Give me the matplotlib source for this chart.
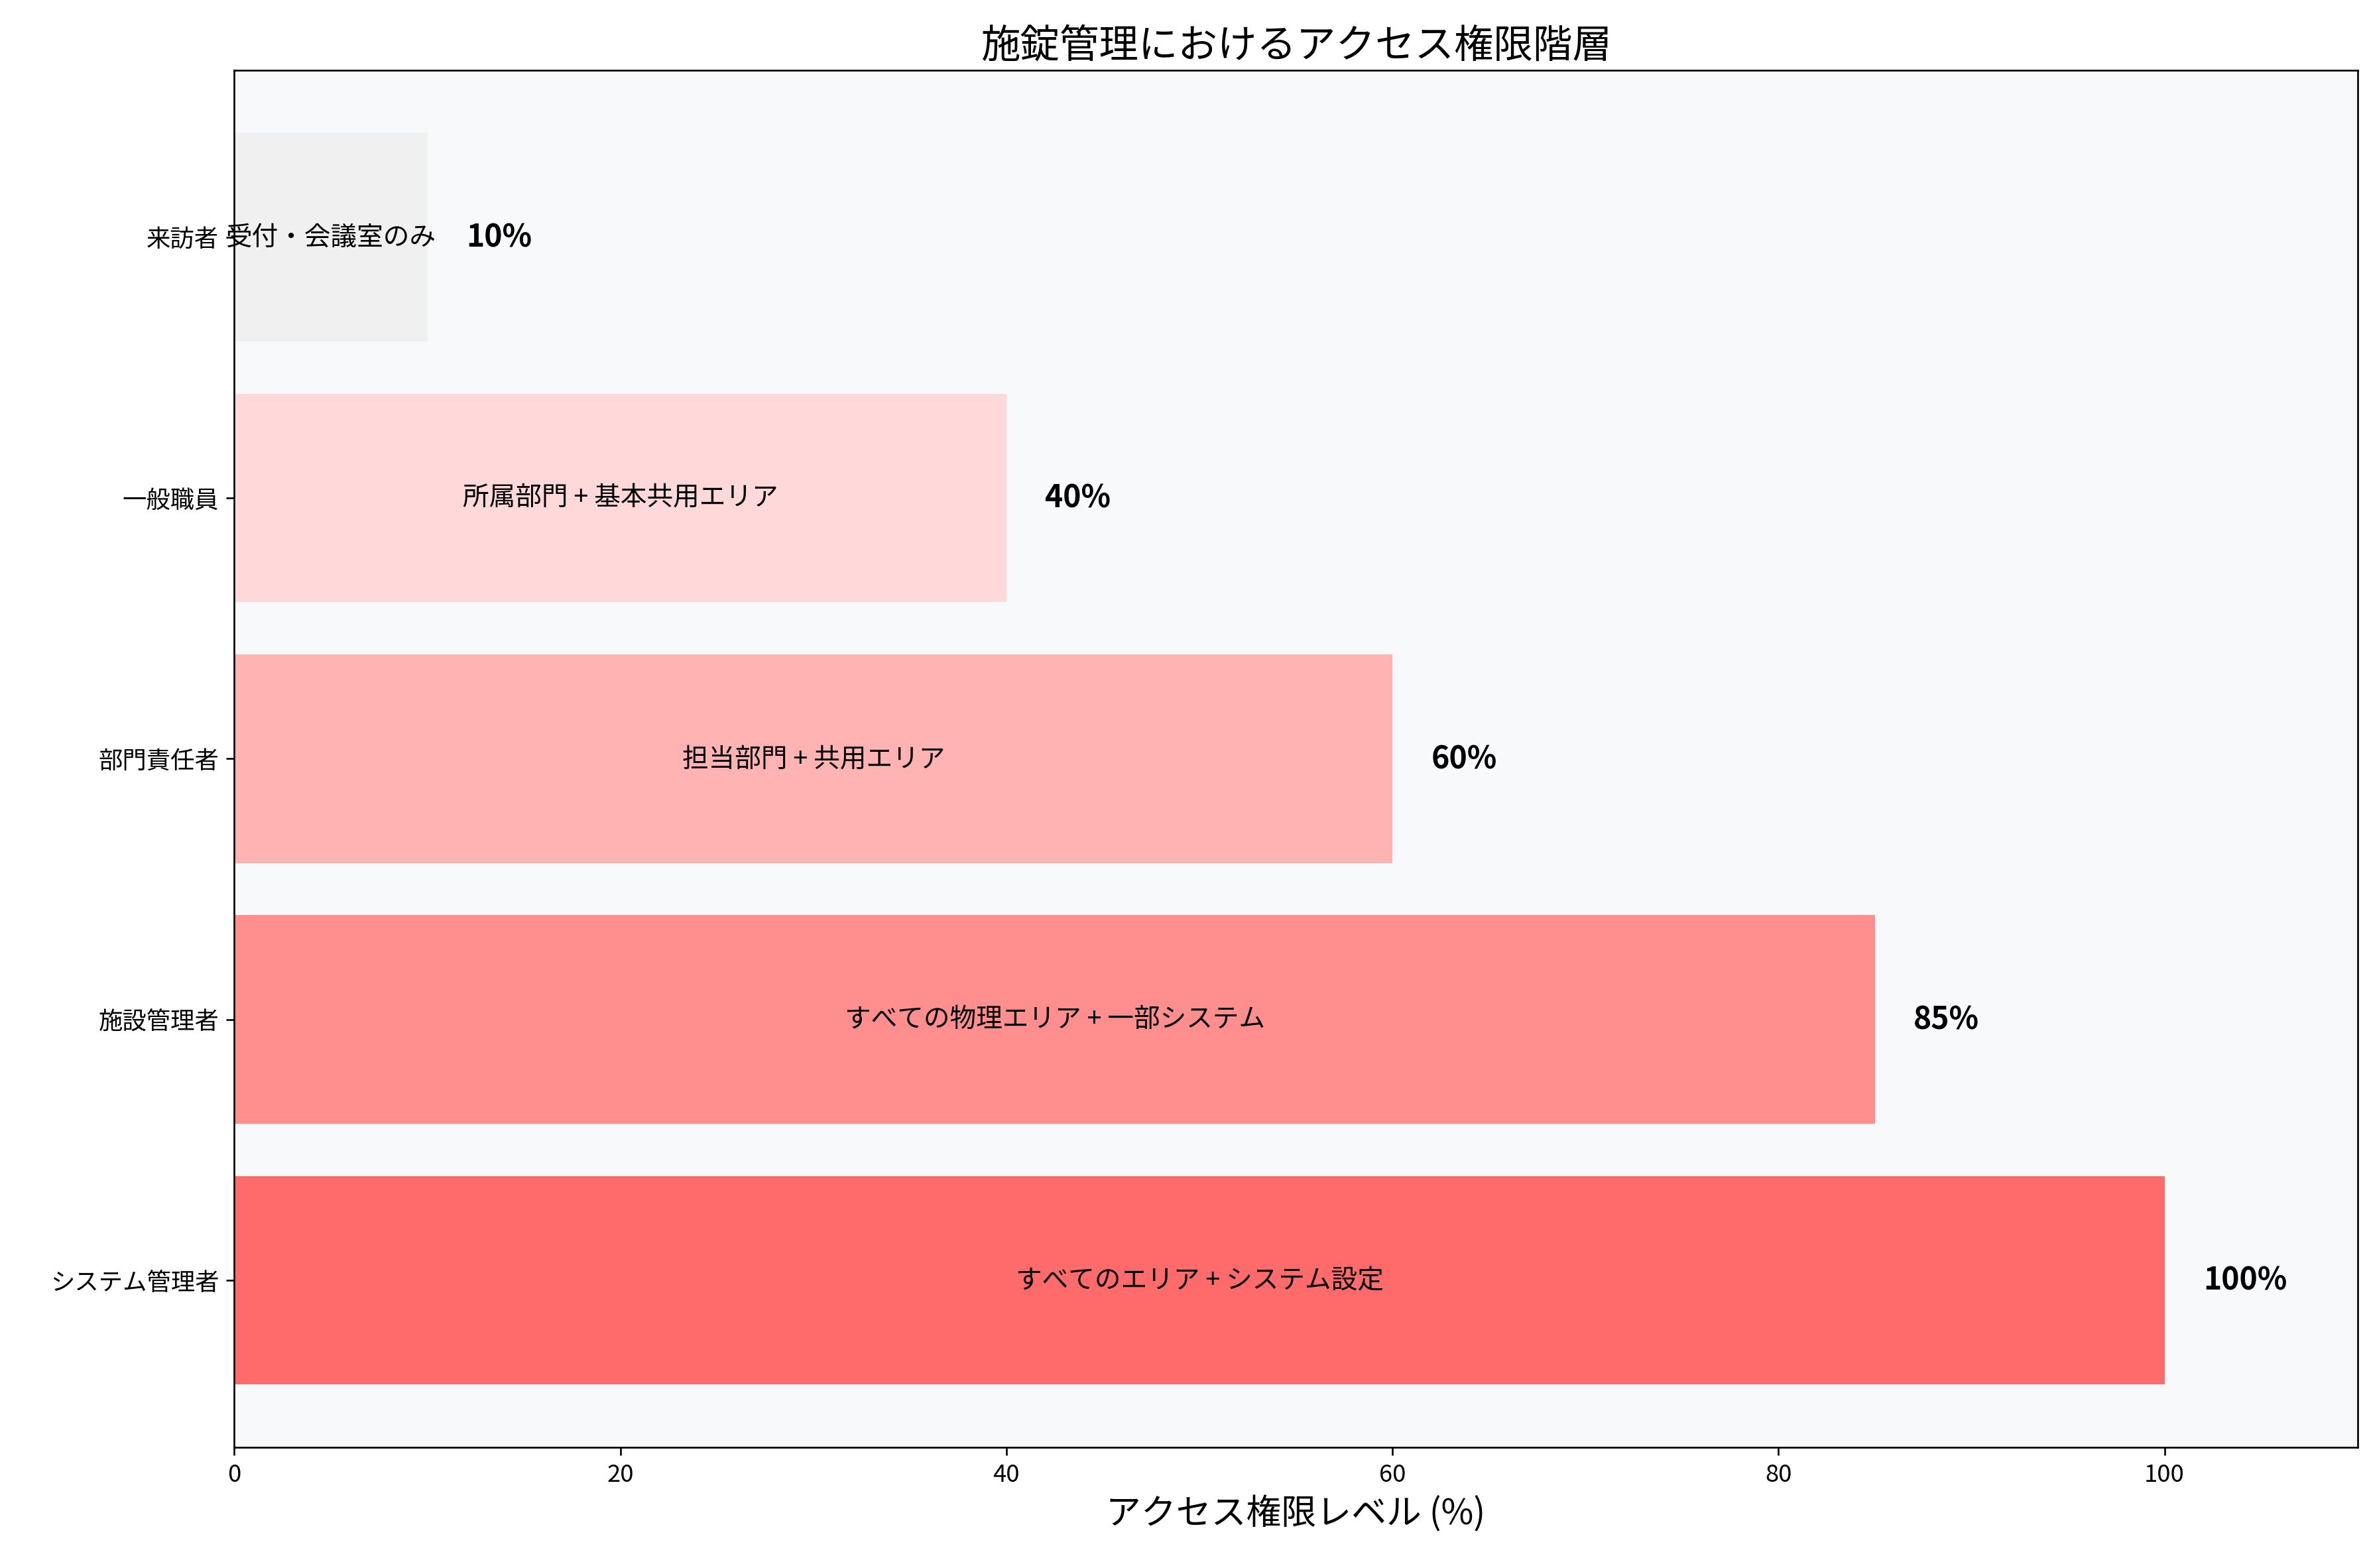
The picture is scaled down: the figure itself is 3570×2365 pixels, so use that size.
import matplotlib.pyplot as plt

plt.rcParams['font.family'] = 'Noto Sans CJK JP'

# Data
roles = ['システム管理者', '施設管理者', '部門責任者', '一般職員', '来訪者']
levels = [100, 85, 60, 40, 10]
areas = ['すべてのエリア + システム設定', 'すべての物理エリア + 一部システム',
         '担当部門 + 共用エリア', '所属部門 + 基本共用エリア', '受付・会議室のみ']
colors = ['#FF6B6B', '#FF8E8E', '#FFB3B3', '#FFD9D9', '#F0F0F0']

fig, ax = plt.subplots(figsize=(15, 9.94), dpi=238)
fig.subplots_adjust(left=0.099, right=0.996, top=0.955, bottom=0.077)
ax.set_facecolor('#F8F9FA')

bars = ax.barh(roles, levels, color=colors, height=0.8)
for bar, lvl, area in zip(bars, levels, areas):
    y = bar.get_y() + bar.get_height() / 2
    ax.text(lvl / 2, y, area, ha='center', va='center', fontsize=12)
    ax.text(lvl + 2, y, f'{lvl}%', ha='left', va='center', fontsize=14, fontweight='bold')

ax.set_xlim(0, 110)
ax.set_xlabel('アクセス権限レベル (%)', fontsize=16)
ax.set_title('施錠管理におけるアクセス権限階層', fontsize=18)
ax.tick_params(labelsize=11)

fig.savefig('out.png', dpi=238)
